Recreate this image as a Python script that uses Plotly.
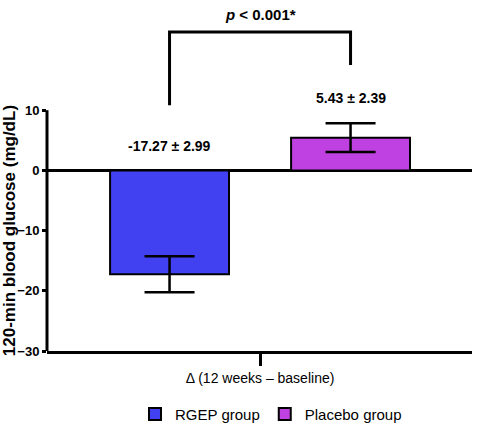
import plotly.graph_objects as go

# dados: variacao (12 semanas - baseline) da glicemia de 120 min
grupos = ["RGEP group", "Placebo group"]
medias = [-17.27, 5.43]
erros = [2.99, 2.39]
cores = ["#4141F2", "#C041E2"]
rotulos = ["-17.27 ± 2.99", "5.43 ± 2.39"]
y_ticks = [-30, -20, -10, 0, 10]
x_rotulo = "Δ (12 weeks – baseline)"
p_texto = "<i>p</i> < 0.001*"

fonte = "Liberation Sans, Arial, sans-serif"

fig = go.Figure()

for i, g in enumerate(grupos):
    fig.add_bar(
        x=[i],
        y=[medias[i]],
        name=g,
        width=0.657,
        marker=dict(color=cores[i], line=dict(color="black", width=2)),
        error_y=dict(type="data", array=[erros[i]], color="black", thickness=2.5, width=25),
    )
    # rotulo media +- erro acima de cada barra
    topo = max(medias[i], 0) + erros[i]
    fig.add_annotation(
        x=i, y=topo + 4.2 if medias[i] > 0 else 4.0, text=rotulos[i], showarrow=False,
        font=dict(family=fonte, size=14, color="black", weight="bold"),
    )

# colchete de significancia
fig.add_shape(
    type="path",
    path="M 0 10.8 L 0 23 L 1 23 L 1 17.5",
    xref="x", yref="y",
    line=dict(color="black", width=3),
)
fig.add_annotation(
    x=0.5, y=25.9, text=p_texto, showarrow=False,
    font=dict(family=fonte, size=15, color="black", weight="bold"),
)

# eixo y desenhado so de -30 a 10
fig.add_shape(
    type="line", xref="paper", yref="y", x0=0, x1=0, y0=-30, y1=10,
    line=dict(color="black", width=3),
)

fig.add_annotation(
    xref="paper", yref="y", x=-0.088, y=-10, xanchor="center", yanchor="middle",
    text="<b>120-min blood glucose (mg/dL)</b>", textangle=-90, showarrow=False,
    font=dict(family=fonte, size=17, color="black"),
)

fig.update_layout(
    width=477,
    height=433,
    margin=dict(l=47, r=5, t=0, b=82),
    plot_bgcolor="white",
    paper_bgcolor="white",
    showlegend=True,
    legend=dict(
        orientation="h", x=0.527, y=-0.18, xanchor="center", yanchor="middle",
        font=dict(family=fonte, size=15, color="black"),
    ),
    xaxis=dict(
        range=[-0.677, 1.671],
        tickvals=[0.5],
        ticktext=[x_rotulo],
        ticks="outside",
        ticklen=12,
        tickwidth=3,
        tickcolor="black",
        showline=True,
        linecolor="black",
        linewidth=3,
        showgrid=False,
        zeroline=False,
        automargin=False,
        tickfont=dict(family=fonte, size=14, color="black"),
    ),
    yaxis=dict(
        range=[-30, 28.3],
        tickvals=y_ticks,
        ticks="outside",
        ticklen=4,
        tickwidth=3,
        tickcolor="black",
        showline=False,
        showgrid=False,
        zeroline=True,
        zerolinecolor="black",
        zerolinewidth=3,
        automargin=False,
        tickfont=dict(family=fonte, size=13, color="black", weight="bold"),
    ),
)

# tira a margem padrao do body para o grafico ficar em (0, 0)
fig.write_html(
    "out.html",
    config={"displayModeBar": False},
    post_script="document.body.style.margin = '0';",
)
